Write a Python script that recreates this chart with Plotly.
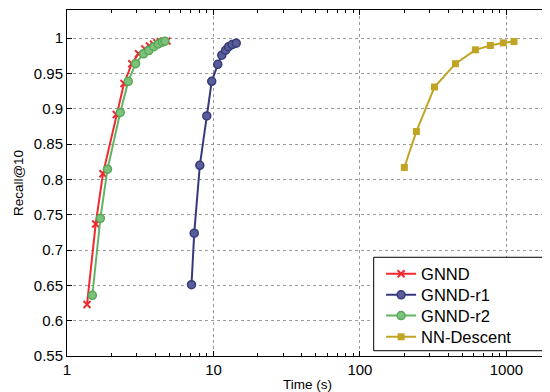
import plotly.graph_objects as go

# ---- data ----
gnnd_time = [1.37, 1.57, 1.76, 2.17, 2.45, 2.77, 3.08, 3.40, 3.66, 3.90, 4.11, 4.33, 4.56, 4.81]
gnnd_recall = [0.623, 0.737, 0.808, 0.892, 0.936, 0.964, 0.978, 0.985, 0.989, 0.9915, 0.9935, 0.995, 0.9958, 0.996]

r1_time = [7.08, 7.39, 8.07, 9.0, 9.73, 10.7, 11.4, 12.1, 12.7, 13.4, 14.3]
r1_recall = [0.651, 0.724, 0.820, 0.890, 0.939, 0.963, 0.976, 0.983, 0.988, 0.991, 0.993]

r2_time = [1.49, 1.69, 1.89, 2.31, 2.62, 2.94, 3.33, 3.62, 3.92, 4.20, 4.47, 4.66]
r2_recall = [0.636, 0.745, 0.8145, 0.895, 0.939, 0.964, 0.978, 0.9826, 0.988, 0.992, 0.9944, 0.9958]

nnd_time = [201, 243, 323, 449, 614, 777, 953, 1127]
nnd_recall = [0.817, 0.868, 0.931, 0.964, 0.9836, 0.9897, 0.9935, 0.9953]

x_tickvals = [1, 10, 100, 1000]
x_ticktext = ["1", "10", "100", "1000"]
y_tickvals = [0.55, 0.6, 0.65, 0.7, 0.75, 0.8, 0.85, 0.9, 0.95, 1.0]
y_ticktext = ["0.55", "0.6", "0.65", "0.7", "0.75", "0.8", "0.85", "0.9", "0.95", "1"]
x_minor = [m * d for d in (1, 10, 100, 1000) for m in range(2, 10) if m * d < 1920]

FONT = "Liberation Sans, Arial, sans-serif"

# page body has an 8px margin: the figure is shifted by (8, 8)
fig = go.Figure()
series = [
    dict(x=gnnd_time, y=gnnd_recall, name="GNND", legend="legend",
         line=dict(color="#ee2a30", width=2),
         marker=dict(symbol="x-thin", size=7, line=dict(color="#ee2a30", width=2), color="#ee2a30")),
    dict(x=r1_time, y=r1_recall, name="GNND-r1", legend="legend2",
         line=dict(color="#363a7c", width=2),
         marker=dict(symbol="circle", size=8, color="#5a5e98", line=dict(color="#363a7c", width=1.5))),
    dict(x=r2_time, y=r2_recall, name="GNND-r2", legend="legend3",
         line=dict(color="#62b462", width=2),
         marker=dict(symbol="circle", size=8, color="#7cc27c", line=dict(color="#55a855", width=1.5))),
    dict(x=nnd_time, y=nnd_recall, name="NN-Descent", legend="legend4",
         line=dict(color="#c2a424", width=2),
         marker=dict(symbol="square", size=7, color="#c2a424")),
]
for s in series:
    fig.add_trace(go.Scatter(mode="lines+markers", **s))

leg_common = dict(x=0.653, xanchor="left", yanchor="middle",
                  bgcolor="rgba(0,0,0,0)", borderwidth=0,
                  font=dict(family=FONT, size=16.5, color="black"), itemwidth=30)
leg_y = [0.237, 0.176, 0.116, 0.055]

fig.update_layout(
    width=542, height=384,
    margin=dict(l=59, r=1, t=2, b=28),
    paper_bgcolor="white", plot_bgcolor="white",
    font=dict(family=FONT, size=15, color="black"),
    showlegend=True,
    legend=dict(y=leg_y[0], **leg_common),
    legend2=dict(y=leg_y[1], **leg_common),
    legend3=dict(y=leg_y[2], **leg_common),
    legend4=dict(y=leg_y[3], **leg_common),
    shapes=[dict(type="rect", xref="paper", yref="paper",
                 x0=0.6376, x1=0.9923, y0=0.0153, y1=0.2853,
                 line=dict(color="black", width=1), fillcolor="white", layer="above")],
)
fig.update_xaxes(
    type="log", range=[0, 3.284],
    tickmode="array", tickvals=x_tickvals, ticktext=x_ticktext,
    ticks="inside", ticklen=5, tickcolor="black",
    showline=True, linecolor="black", linewidth=1, mirror="ticks",
    showgrid=True, gridcolor="#9a9a9a", griddash="dot", gridwidth=1,
    zeroline=False,
    minor=dict(tickmode="array", tickvals=x_minor, ticks="inside", ticklen=3,
               tickcolor="black", showgrid=False),
    title=dict(text="Time (s)", font=dict(family=FONT, size=13.5), standoff=4),
    tickfont=dict(family=FONT, size=15),
)
fig.update_yaxes(
    range=[0.55, 1.04],
    tickmode="array", tickvals=y_tickvals, ticktext=y_ticktext,
    ticks="inside", ticklen=5, tickcolor="black",
    showline=True, linecolor="black", linewidth=1, mirror="ticks",
    showgrid=True, gridcolor="#9a9a9a", griddash="dot", gridwidth=1,
    zeroline=False,
    title=dict(text="Recall@10", font=dict(family=FONT, size=13.5), standoff=7),
    tickfont=dict(family=FONT, size=15),
)

fig.write_html("out.html")
